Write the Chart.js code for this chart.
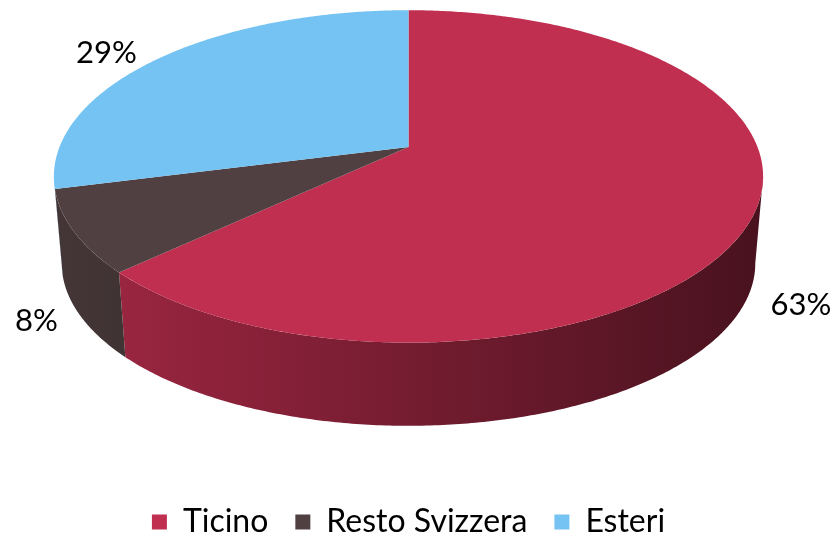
<!DOCTYPE html>
<html>
<head>
<meta charset="utf-8">
<script src="https://cdn.jsdelivr.net/npm/chart.js@4.4.0/dist/chart.umd.min.js"></script>
<style>
    html, body { margin: 0; padding: 0; background: #fff; }
</style>
</head>
<body>
<canvas id="pieCanvas" width="833" height="538"></canvas>
<script>
const regions = ['Ticino', 'Resto Svizzera', 'Esteri'];
const shares = [63, 8, 29];
const sliceColors = ['#C02F50', '#514042', '#74C3F3'];

// simple perspective camera for the 3D look
const APEX_Y = 147;       // where the slices meet on the top face
const FLAT_RX = 349;      // horizontal scale of the top face
const FLAT_RY = 161;      // vertical scale of the top face
const PERSP = 0.177;      // front gets bigger, back gets smaller
const WALL_DROP = 87.5;   // side wall height
const WALL_SCALE = 0.978; // bottom rim is a bit narrower

function shade(hex, f) {
    var r = parseInt(hex.substr(1, 2), 16);
    var g = parseInt(hex.substr(3, 2), 16);
    var b = parseInt(hex.substr(5, 2), 16);
    return 'rgb(' + Math.round(r * f) + ',' + Math.round(g * f) + ',' + Math.round(b * f) + ')';
}

// u, v are unit-circle coords of the flat pie (v > 0 = front)
function projTop(cx, u, v) {
    var w = 1 - PERSP * v;
    return [cx + FLAT_RX * u / w, APEX_Y + FLAT_RY * v / w];
}

function projBottom(cx, u, v) {
    var w = 1 - PERSP * v;
    return [cx + WALL_SCALE * FLAT_RX * u / w, APEX_Y + WALL_DROP + WALL_SCALE * FLAT_RY * v / w];
}

// parts of [a, b] whose wall faces the viewer
function frontParts(a, b) {
    var parts = [];
    var edge = Math.asin(PERSP);
    for (var k = -1; k <= 1; k++) {
        var lo = Math.max(a, k * 2 * Math.PI + edge);
        var hi = Math.min(b, k * 2 * Math.PI + Math.PI - edge);
        if (hi > lo) parts.push([lo, hi]);
    }
    return parts;
}

const rawMoveTo = CanvasRenderingContext2D.prototype.moveTo;
const rawLineTo = CanvasRenderingContext2D.prototype.lineTo;

const pie3d = {
    id: 'pie3d',
    beforeDatasetsDraw(chart) {
        const ctx = chart.ctx;
        const arcs = chart.getDatasetMeta(0).data;
        const cx = arcs[0].x, X = arcs[0].x, Y = arcs[0].y, R = arcs[0].outerRadius;

        //Side wall
        arcs.forEach(function(arc, i) {
            frontParts(arc.startAngle, arc.endAngle).forEach(function(p) {
                const grad = ctx.createLinearGradient(cx - FLAT_RX, 0, cx + FLAT_RX, 0);
                grad.addColorStop(0, shade(sliceColors[i], 0.84));
                grad.addColorStop(1, shade(sliceColors[i], 0.38));
                const n = Math.max(2, Math.ceil((p[1] - p[0]) / 0.01));
                ctx.beginPath();
                for (var j = 0; j <= n; j++) {
                    var t = p[0] + (p[1] - p[0]) * j / n;
                    var q = projTop(cx, Math.cos(t), Math.sin(t));
                    rawLineTo.call(ctx, q[0], q[1]);
                }
                for (var j = n; j >= 0; j--) {
                    var t = p[0] + (p[1] - p[0]) * j / n;
                    var q = projBottom(cx, Math.cos(t), Math.sin(t));
                    rawLineTo.call(ctx, q[0], q[1]);
                }
                ctx.closePath();
                ctx.fillStyle = grad;
                ctx.fill();
            });
        });

        // let the arc elements draw their own paths, seen through the camera
        const map = function(px, py) { return projTop(cx, (px - X) / R, (py - Y) / R); };
        ctx.moveTo = function(px, py) { var q = map(px, py); rawMoveTo.call(ctx, q[0], q[1]); };
        ctx.lineTo = function(px, py) { var q = map(px, py); rawLineTo.call(ctx, q[0], q[1]); };
        ctx.arc = function(x0, y0, r, a0, a1, ccw) {
            var sweep = a1 - a0;
            if (!ccw && sweep < 0) sweep += 2 * Math.PI;
            if (ccw && sweep > 0) sweep -= 2 * Math.PI;
            var n = Math.max(2, Math.ceil(Math.abs(sweep) / 0.01));
            for (var j = 0; j <= n; j++) {
                var t = a0 + sweep * j / n;
                var q = map(x0 + r * Math.cos(t), y0 + r * Math.sin(t));
                rawLineTo.call(ctx, q[0], q[1]);
            }
        };
    },
    afterDatasetsDraw(chart) {
        const ctx = chart.ctx;
        delete ctx.moveTo;
        delete ctx.lineTo;
        delete ctx.arc;

        const arcs = chart.getDatasetMeta(0).data;
        const cx = arcs[0].x;
        const total = shares.reduce(function(a, b) { return a + b; }, 0);

        //Percent labels
        ctx.save();
        ctx.font = '31px Lato';
        ctx.fillStyle = '#000';
        ctx.textAlign = 'center';
        ctx.textBaseline = 'middle';
        arcs.forEach(function(arc, i) {
            const mid = (arc.startAngle + arc.endAngle) / 2;
            const text = Math.round(shares[i] / total * 100) + '%';
            const half = ctx.measureText(text).width / 2;
            const u = Math.cos(mid), v = Math.sin(mid);
            const rim = v > 0 ? projBottom(cx, u, v) : projTop(cx, u, v);
            const gap = v > 0 ? 30 : 37;
            const x = rim[0] + u * (gap + half);
            const y = rim[1] + v * 8;
            ctx.fillText(text, x, y);
        });
        ctx.restore();
    }
};

const chartData = {
    labels: regions,
    datasets: [{
        data: shares,
        backgroundColor: sliceColors,
        borderWidth: 0,
        clip: false
    }]
};

const config = {
    type: 'pie',
    data: chartData,
    options: {
        responsive: false,
        animation: false,
        events: [],
        layout: {
            padding: { top: 0, right: 16, bottom: -10, left: 0 }
        },
        plugins: {
            legend: {
                position: 'bottom',
                labels: {
                    boxWidth: 15,
                    boxHeight: 15,
                    padding: 27,
                    color: '#000',
                    font: { family: 'Lato', size: 32 }
                }
            },
            tooltip: { enabled: false }
        }
    },
    plugins: [pie3d]
};

new Chart(document.getElementById('pieCanvas'), config);
</script>
</body>
</html>
